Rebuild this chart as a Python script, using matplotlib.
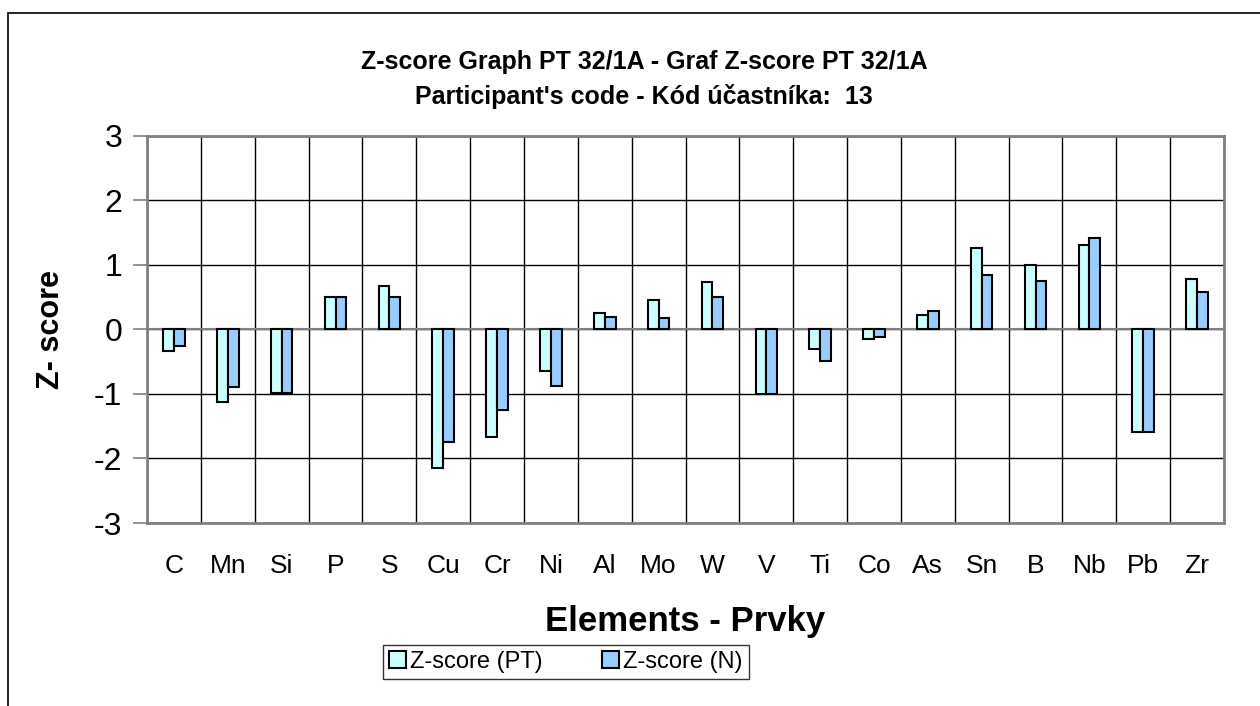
import matplotlib.pyplot as plt
import numpy as np
from matplotlib.patches import Rectangle

elements = ["C", "Mn", "Si", "P", "S", "Cu", "Cr", "Ni", "Al", "Mo",
            "W", "V", "Ti", "Co", "As", "Sn", "B", "Nb", "Pb", "Zr"]
z_pt = [-0.33, -1.12, -0.98, 0.50, 0.67, -2.15, -1.66, -0.64, 0.26, 0.45,
        0.74, -1.00, -0.31, -0.14, 0.22, 1.26, 1.00, 1.31, -1.59, 0.79]
z_n = [-0.25, -0.89, -0.98, 0.50, 0.50, -1.75, -1.25, -0.87, 0.20, 0.18,
       0.50, -1.00, -0.49, -0.11, 0.28, 0.84, 0.75, 1.42, -1.59, 0.58]
yticks = [-3, -2, -1, 0, 1, 2, 3]

plt.rcParams['font.family'] = ['Liberation Sans', 'DejaVu Sans']

fig = plt.figure(figsize=(12.6, 7.06), dpi=100)
ax = fig.add_axes([0.1167, 0.2592, 0.8547, 0.5482])

x = np.arange(len(elements))
w = 0.2
ax.bar(x - w / 2, z_pt, w, color="#CCFFFF", edgecolor="black", linewidth=1.5,
       label="Z-score (PT)", zorder=3)
ax.bar(x + w / 2, z_n, w, color="#99CCFF", edgecolor="black", linewidth=1.5,
       label="Z-score (N)", zorder=3)

ax.set_xlim(-0.5, len(elements) - 0.5)
ax.set_ylim(-3, 3)
ax.set_yticks(yticks)
ax.set_yticklabels([str(t) for t in yticks], fontsize=23)
ax.set_xticks(x)
ax.set_xticklabels(elements, fontsize=19)
ax.tick_params(axis="x", length=0, pad=22)
ax.tick_params(axis="y", length=10, color="gray", width=1.2, pad=8)

# grid: horizontal at every integer, vertical at category boundaries
for t in yticks:
    ax.axhline(t, color="black", lw=1, zorder=1)
for b in np.arange(len(elements) + 1) - 0.5:
    ax.axvline(b, color="black", lw=1, zorder=1)
ax.axhline(0, color="gray", lw=1.5, zorder=2)
for s in ax.spines.values():
    s.set_color("gray")
    s.set_linewidth(2)

ax.set_ylabel("Z- score", fontsize=22, fontweight="bold", labelpad=20)
ax.set_xlabel("Elements - Prvky", fontsize=25, fontweight="bold", labelpad=20)

fig.text(0.511, 0.912, "Z-score Graph PT 32/1A - Graf Z-score PT 32/1A",
         ha="center", va="center", fontsize=18, fontweight="bold")
fig.text(0.511, 0.864, "Participant's code - Kód účastníka:  13",
         ha="center", va="center", fontsize=18, fontweight="bold")

leg = fig.legend(loc="center", bbox_to_anchor=(0.4492, 0.0623), ncol=2,
                 fontsize=17, frameon=True, fancybox=False, edgecolor="black",
                 handlelength=0.7, handleheight=0.7, handletextpad=0.2,
                 columnspacing=2.5, borderpad=0.25)
leg.get_frame().set_linewidth(1)

# outer chart border (left and top visible)
fig.patches.append(Rectangle((8 / 1260, -0.1), 1.2, 1 - 13 / 706 + 0.1,
                             transform=fig.transFigure, fill=False,
                             edgecolor="black", lw=1.2))

fig.savefig("out.png", dpi=100)
